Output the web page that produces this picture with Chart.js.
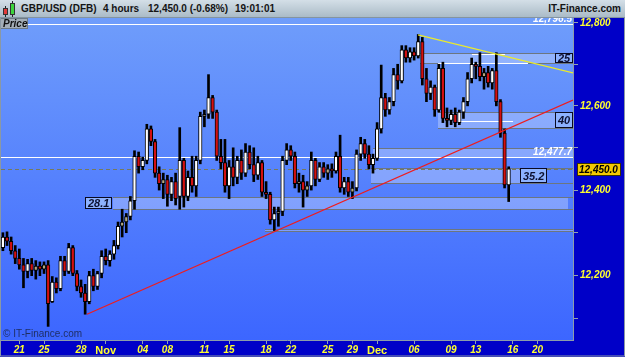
<!DOCTYPE html>
<html>
<head>
<meta charset="utf-8">
<script src="https://cdn.jsdelivr.net/npm/chart.js@4.4.0/dist/chart.umd.min.js"></script>
<style>
html, body { margin: 0; padding: 0; background: #0000c8; }
#wrap { position: relative; width: 625px; height: 357px; overflow: hidden; }
#head { position: absolute; left: 0; top: 0; width: 625px; height: 18px; box-sizing: border-box;
  background: linear-gradient(#d4dfe7, #aabbc7); border-bottom: 1px solid #8494a0; }
#head span { position: absolute; top: 3px; font: bold 10px Arial, "Liberation Sans", sans-serif; color: #141414; white-space: nowrap; }
.wick { position: absolute; width: 1px; background: #222; }
.body { position: absolute; box-sizing: border-box; border: 1px solid #333; }
#chart { position: absolute; left: 0; top: 18px; }
</style>
</head>
<body>
<div id="wrap">
  <div id="head">
    <div class="wick" style="left:5px;top:6px;height:11px"></div>
    <div class="body" style="left:3px;top:8px;width:5px;height:7px;background:#e23a3a"></div>
    <div class="wick" style="left:12px;top:1px;height:16px"></div>
    <div class="body" style="left:10px;top:3px;width:5px;height:12px;background:#3cd43c"></div>
    <span style="left:21px">GBP/USD (DFB)</span>
    <span style="left:103px">4 hours</span>
    <span style="left:148px">12,450.0 (-0.68%)</span>
    <span style="left:235px">19:01:01</span>
    <span style="right:4px">IT-Finance.com</span>
  </div>
  <canvas id="chart" width="625" height="339"></canvas>
</div>
<script>
// 8-hour buckets, 3 per trading day, day 0 = Oct 19
const barsPerDay = 3;
const opens = [12285,12265,12290,12280,12258,12240,12225,12210,12228,12212,12222,12215,12225,12140,12185,12170,12235,12210,12265,12205,
  12175,12160,12140,12200,12175,12205,12245,12235,12250,12270,12315,12325,12338,12375,12480,12455,12470,12545,12515,12440,
  12415,12425,12390,12420,12385,12470,12385,12430,12410,12470,12575,12580,12620,12585,12480,12465,12410,12455,12430,12470,
  12440,12490,12460,12435,12465,12395,12390,12330,12345,12350,12470,12495,12480,12415,12420,12400,12410,12470,12425,12455,
  12440,12450,12445,12480,12405,12420,12395,12405,12485,12510,12485,12460,12475,12545,12620,12590,12610,12675,12660,12735,
  12715,12730,12720,12755,12665,12630,12645,12590,12690,12570,12565,12580,12560,12585,12610,12665,12700,12695,12670,12680,
  12655,12685,12610,12535,12412];
const highs = [12298,12300,12302,12290,12270,12262,12240,12238,12240,12235,12232,12232,12235,12198,12195,12245,12245,12275,12270,12212,
  12190,12180,12210,12215,12210,12258,12262,12258,12282,12325,12355,12345,12385,12493,12490,12478,12556,12552,12520,12455,
  12440,12435,12430,12440,12548,12475,12445,12480,12480,12585,12590,12675,12625,12590,12520,12520,12470,12500,12480,12495,
  12510,12505,12500,12480,12470,12420,12395,12360,12360,12480,12510,12505,12490,12440,12435,12420,12490,12475,12465,12465,
  12460,12462,12490,12530,12430,12430,12420,12495,12525,12520,12505,12485,12560,12698,12630,12620,12690,12700,12745,12745,
  12740,12740,12772,12765,12690,12660,12650,12700,12705,12595,12590,12595,12590,12620,12680,12715,12705,12728,12690,12695,
  12690,12728,12615,12545,12455];
const lows = [12255,12258,12270,12250,12228,12215,12172,12195,12200,12192,12200,12205,12083,12138,12160,12165,12200,12205,12200,12165,
  12150,12111,12135,12165,12168,12195,12225,12222,12238,12262,12290,12300,12330,12355,12440,12448,12462,12505,12430,12400,
  12380,12362,12375,12365,12355,12360,12375,12395,12385,12462,12550,12570,12570,12470,12450,12395,12380,12410,12415,12425,
  12432,12450,12420,12425,12385,12380,12320,12305,12315,12340,12460,12470,12405,12395,12360,12385,12400,12410,12420,12430,
  12425,12430,12440,12395,12390,12385,12380,12398,12470,12475,12450,12440,12470,12535,12575,12580,12600,12640,12655,12705,
  12705,12710,12715,12650,12610,12615,12575,12585,12560,12550,12555,12550,12555,12570,12600,12655,12665,12660,12640,12645,
  12640,12600,12525,12405,12373];
const closes = [12265,12290,12280,12258,12240,12225,12210,12228,12212,12222,12215,12225,12135,12185,12170,12235,12210,12265,12205,12175,
  12160,12140,12200,12175,12205,12245,12235,12250,12270,12315,12325,12338,12375,12480,12455,12470,12545,12515,12440,12415,
  12425,12390,12420,12380,12470,12385,12430,12410,12470,12575,12580,12620,12585,12480,12465,12410,12455,12430,12470,12440,
  12490,12460,12435,12465,12395,12390,12330,12345,12350,12470,12495,12480,12415,12420,12400,12410,12470,12425,12455,12440,
  12450,12445,12480,12405,12420,12395,12405,12485,12510,12485,12460,12475,12545,12620,12590,12610,12675,12660,12735,12715,
  12730,12720,12755,12665,12630,12645,12590,12690,12570,12565,12580,12560,12585,12610,12665,12700,12695,12670,12680,12655,
  12685,12610,12535,12412,12450];

// axis ticks (trading-day index) and price ticks
const dayTicks = [2, 4, 7, 9, 12, 14, 17, 19, 22, 24, 27, 29, 31, 34, 37, 39, 42, 44];
const dayLabels = ['21', '25', '28', 'Nov', '04', '08', '11', '15', '18', '22', '25', '29', 'Dec', '06', '09', '13', '16', '20'];
const priceTicks = [12100, 12200, 12300, 12400, 12500, 12600, 12700, 12800];

// drawn objects
const zoneStart = [34.48, 35.94, 30.67, 30.5, 9.59, 21.91];
const zoneEnd = [46.88, 46.88, 46.88, 44.77, 46.48, 46.88];
const zoneLow = [12702, 12546, 12477.7, 12416.6, 12356, 12304];
const zoneHigh = [12727, 12586, 12500, 12451.8, 12384.1, 12309];
const zoneLabels = ['25', '40', '', '35.2', '28.1', ''];
const zoneLabelLeft = [false, false, false, false, true, false];
const segStart = [38.69, 35.94, 37.56];
const segEnd = [41.37, 43.23, 42.02];
const segPrice = [12725, 12703, 12565];
const whiteLevels = [12796.5, 12477.7];
const lastPrice = 12450.0;
const redLine = [{ x: 7.48, y: 12111 }, { x: 46.88, y: 12614 }];
const yellowLine = [{ x: 34.32, y: 12771 }, { x: 46.88, y: 12679 }];

const FONT = 'Arial, "Liberation Sans", sans-serif';
const barX = opens.map((o, i) => (i + 1) / barsPerDay);
const bodyColors = opens.map((o, i) => closes[i] < o ? '#d41010' : (closes[i] - o < 15 ? '#b3a982' : '#ffffff'));

function fmt(v, d) {
  return v.toLocaleString('en-US', { minimumFractionDigits: d, maximumFractionDigits: d });
}

const overlay = {
  id: 'overlay',
  beforeDraw(chart) {
    const { ctx, chartArea: a } = chart;
    ctx.save();
    ctx.fillStyle = '#0000c8';
    ctx.fillRect(0, 0, chart.width, chart.height);
    const g = ctx.createLinearGradient(0, a.top, 0, a.bottom);
    g.addColorStop(0, '#6f9dfb');
    g.addColorStop(1, '#3c66ff');
    ctx.fillStyle = g;
    ctx.fillRect(a.left, a.top, a.right - a.left, a.bottom - a.top);
    ctx.restore();
  },
  beforeDatasetsDraw(chart) {
    const { ctx, chartArea: a, scales: { x, y } } = chart;
    ctx.save();
    ctx.beginPath();
    ctx.rect(a.left, a.top, a.right - a.left, a.bottom - a.top);
    ctx.clip();
    zoneStart.forEach((s, i) => {
      const x0 = Math.round(x.getPixelForValue(s));
      const x1 = Math.round(x.getPixelForValue(zoneEnd[i]));
      const yt = Math.round(y.getPixelForValue(zoneHigh[i]));
      const yb = Math.round(y.getPixelForValue(zoneLow[i]));
      ctx.fillStyle = 'rgba(255,255,255,0.28)';
      ctx.fillRect(x0, yt, x1 - x0, yb - yt);
      ctx.strokeStyle = '#6c7680';
      ctx.lineWidth = 1;
      ctx.beginPath();
      ctx.moveTo(x0, yt + 0.5); ctx.lineTo(a.right, yt + 0.5);
      ctx.moveTo(x0, yb + 0.5); ctx.lineTo(a.right, yb + 0.5);
      ctx.stroke();
    });
    // full-width levels
    ctx.strokeStyle = '#ffffff';
    whiteLevels.forEach(p => {
      const py = Math.round(y.getPixelForValue(p)) + 0.5;
      ctx.beginPath(); ctx.moveTo(a.left, py); ctx.lineTo(a.right, py); ctx.stroke();
    });
    segStart.forEach((s, i) => {
      const py = Math.round(y.getPixelForValue(segPrice[i])) + 0.5;
      ctx.beginPath();
      ctx.moveTo(x.getPixelForValue(s), py); ctx.lineTo(x.getPixelForValue(segEnd[i]), py);
      ctx.stroke();
    });
    const ly = Math.round(y.getPixelForValue(lastPrice)) + 0.5;
    ctx.strokeStyle = '#767a5c';
    ctx.setLineDash([4, 3]);
    ctx.beginPath(); ctx.moveTo(a.left, ly); ctx.lineTo(a.right, ly); ctx.stroke();
    ctx.restore();
  },
  afterDatasetsDraw(chart) {
    const { ctx, chartArea: a, scales: { x, y } } = chart;
    ctx.save();
    ctx.beginPath();
    ctx.rect(a.left, a.top, a.right - a.left, a.bottom - a.top);
    ctx.clip();
    ctx.font = 'italic bold 11px ' + FONT;
    ctx.textBaseline = 'middle';
    zoneLabels.forEach((lbl, i) => {
      if (!lbl) return;
      const yt = Math.round(y.getPixelForValue(zoneHigh[i]));
      const yb = Math.round(y.getPixelForValue(zoneLow[i]));
      const w = Math.ceil(ctx.measureText(lbl).width) + 5;
      const edge = zoneLabelLeft[i] ? x.getPixelForValue(zoneStart[i]) - 1 : x.getPixelForValue(zoneEnd[i]);
      const bx = Math.round(edge - w);
      ctx.fillStyle = '#8db2ff';
      ctx.fillRect(bx, yt, w, yb - yt);
      ctx.strokeStyle = '#0a0a20';
      ctx.lineWidth = 1;
      ctx.strokeRect(bx + 0.5, yt + 0.5, w - 1, yb - yt - 1);
      ctx.fillStyle = '#0c1030';
      ctx.textAlign = 'left';
      ctx.fillText(lbl, bx + 3, (yt + yb) / 2 + 1);
    });
    // level captions
    ctx.font = 'italic bold 10px ' + FONT;
    ctx.fillStyle = '#ffffff';
    ctx.textAlign = 'right';
    ctx.textBaseline = 'alphabetic';
    whiteLevels.forEach(p => {
      ctx.fillText(fmt(p, 1), 572, Math.round(y.getPixelForValue(p)) - 2);
    });
    // Price tag
    ctx.fillStyle = '#a4aeb7';
    ctx.fillRect(a.left - 1, a.top, 28, 11);
    ctx.strokeStyle = '#6e7a84';
    ctx.strokeRect(a.left - 0.5, a.top + 0.5, 27, 10);
    ctx.fillStyle = '#101010';
    ctx.textAlign = 'left';
    ctx.font = 'italic bold 10px ' + FONT;
    ctx.fillText('Price', a.left + 2, a.top + 9);
    // watermark
    ctx.font = '10px ' + FONT;
    ctx.fillStyle = 'rgba(25,35,70,0.85)';
    ctx.fillText('\u00a9 IT-Finance.com', a.left + 2, a.bottom - 3);
    ctx.restore();
  },
  afterDraw(chart) {
    const { ctx, chartArea: a, scales: { y } } = chart;
    ctx.save();
    const py = Math.round(y.getPixelForValue(lastPrice));
    ctx.fillStyle = '#f3c900';
    ctx.fillRect(a.right + 4, py - 6, 44, 13);
    ctx.strokeStyle = '#3a3000';
    ctx.strokeRect(a.right + 4.5, py - 5.5, 43, 12);
    ctx.fillStyle = '#000000';
    ctx.font = 'italic bold 10px ' + FONT;
    ctx.textAlign = 'left';
    ctx.textBaseline = 'middle';
    ctx.fillText(fmt(lastPrice, 1), a.right + 6, py + 1);
    ctx.strokeStyle = '#8a98a4';
    ctx.strokeRect(0.5, -1, chart.width - 1, chart.height);
    ctx.restore();
  }
};

const ctx = document.getElementById('chart').getContext('2d');
const chart = new Chart(ctx, {
  type: 'bar',
  data: {
    datasets: [{
      type: 'line',
      data: redLine,
      borderColor: '#f01c1c',
      borderWidth: 1.2,
      pointRadius: 0,
      clip: 0,
      order: 0
    }, {
      type: 'line',
      data: yellowLine,
      borderColor: '#eaea2c',
      borderWidth: 1.2,
      pointRadius: 0,
      clip: 0,
      order: 0
    }, {
      data: barX.map((t, i) => ({ x: t, y: [opens[i], closes[i]] })),
      backgroundColor: bodyColors,
      borderColor: '#000000',
      borderWidth: 1,
      borderSkipped: false,
      barThickness: 3.5,
      grouped: false,
      order: 1
    }, {
      data: barX.map((t, i) => ({ x: t, y: [lows[i], highs[i]] })),
      backgroundColor: '#000000',
      barThickness: 2,
      grouped: false,
      order: 2
    }]
  },
  options: {
    responsive: false,
    animation: false,
    devicePixelRatio: 1,
    events: [],
    layout: { padding: { left: 1, right: 0, top: 0, bottom: 0 } },
    plugins: { legend: { display: false }, tooltip: { enabled: false }, title: { display: false } },
    scales: {
      x: {
        type: 'linear',
        offset: false,
        min: 0.512,
        max: 46.88,
        bounds: 'data',
        afterBuildTicks: s => { s.ticks = dayTicks.map(v => ({ value: v })); },
        afterFit: s => { s.height = 17; s.paddingLeft = 0; s.paddingRight = 0; },
        grid: { offset: false, drawOnChartArea: false, tickLength: 4, color: '#93a2b0' },
        border: { display: true, color: '#8c9caa' },
        ticks: {
          autoSkip: false,
          maxRotation: 0,
          padding: 0,
          color: '#ffff2e',
          font: c => {
            const lbl = dayLabels[dayTicks.indexOf(c.tick && c.tick.value)] || '';
            return /[A-Za-z]/.test(lbl)
              ? { family: FONT, size: 11, weight: 'bold', style: 'normal' }
              : { family: FONT, size: 10, weight: 'bold', style: 'italic' };
          },
          callback: v => dayLabels[dayTicks.indexOf(v)]
        }
      },
      y: {
        type: 'logarithmic',
        position: 'right',
        min: 12051.8,
        max: 12812.1,
        bounds: 'data',
        afterBuildTicks: s => { s.ticks = priceTicks.map(v => ({ value: v })); },
        afterFit: s => { s.width = 52; s.paddingTop = 0; s.paddingBottom = 0; },
        grid: { drawOnChartArea: false, tickLength: 5, color: '#93a2b0' },
        border: { display: true, color: '#8c9caa' },
        ticks: {
          padding: 2,
          color: '#ffff2e',
          font: { family: FONT, size: 10, weight: 'bold', style: 'italic' },
          callback: v => (Math.round(v) % 200 === 0 ? fmt(Math.round(v), 0) : '')
        }
      }
    }
  },
  plugins: [overlay]
});
</script>
</body>
</html>
